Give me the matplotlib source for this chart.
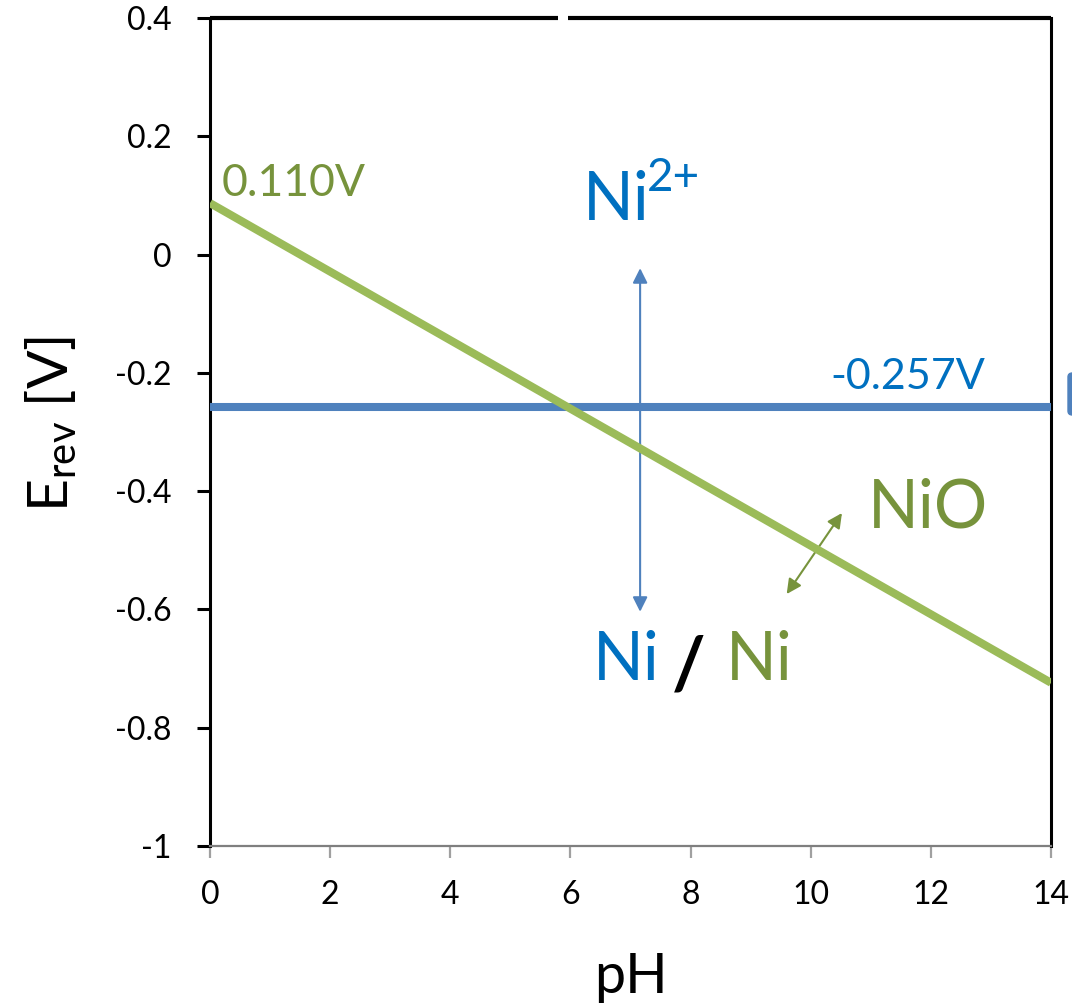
import matplotlib
matplotlib.use("Agg")
import matplotlib.pyplot as plt
from matplotlib.patches import FancyBboxPatch
from matplotlib.lines import Line2D

plt.rcParams['font.family'] = ['Lato', 'DejaVu Sans']
plt.rcParams['mathtext.default'] = 'regular'

# Data
ph_green = [0, 14]
e_green = [0.087, -0.724]          # Ni/NiO line
ph_blue = [0, 14]
e_blue = [-0.257, -0.257]          # Ni/Ni2+ line
x_ticks = [0, 2, 4, 6, 8, 10, 12, 14]
y_ticks = [-1, -0.8, -0.6, -0.4, -0.2, 0, 0.2, 0.4]
y_tick_labels = ["-1", "-0.8", "-0.6", "-0.4", "-0.2", "0", "0.2", "0.4"]

GREEN_LINE = "#9BBB59"
GREEN_TXT = "#77933C"
BLUE_LINE = "#4F81BD"
BLUE_TXT = "#0070C0"

fig = plt.figure(figsize=(10.72, 10.08), dpi=100)
ax = fig.add_axes([210/1072, 1 - 846/1008, (1051-210)/1072, (846-18)/1008])
ax.set_xlim(0, 14)
ax.set_ylim(-1, 0.4)

ax.plot(ph_blue, e_blue, color=BLUE_LINE, lw=5.8, solid_capstyle='butt', zorder=3)
ax.plot(ph_green, e_green, color=GREEN_LINE, lw=5.8, solid_capstyle='butt', zorder=4)

# spines
ax.spines['left'].set_color('black')
ax.spines['left'].set_linewidth(2.2)
ax.spines['right'].set_color('black')
ax.spines['right'].set_linewidth(2.2)
ax.spines['bottom'].set_color('#7f7f7f')
ax.spines['bottom'].set_linewidth(1.6)
ax.spines['top'].set_visible(False)
# top border with small gap
gap_l = (558-210)/(1051-210)
gap_r = (568-210)/(1051-210)
for x0, x1 in [(0, gap_l), (gap_r, 1)]:
    ax.add_line(Line2D([x0, x1], [1, 1], transform=ax.transAxes, color='black',
                       lw=3.0, clip_on=False, solid_capstyle='butt'))

ax.set_xticks(x_ticks)
ax.set_xticklabels([str(v) for v in x_ticks])
ax.set_yticks(y_ticks)
ax.set_yticklabels(y_tick_labels)
ax.tick_params(axis='y', direction='out', length=9.5, width=2.2, color='black',
               labelsize=23, pad=18)
ax.tick_params(axis='x', direction='out', length=8.5, width=1.6, color='#a0a0a0',
               labelsize=23, pad=16)

ax.set_xlabel("pH", fontsize=40, labelpad=30)
ax.set_ylabel("E$_{rev}$ [V]", fontsize=41)
ax.yaxis.set_label_coords(-0.156, 0.51)

# value labels
ax.text(0.2, 0.121, "0.110V", color=GREEN_TXT, fontsize=32, ha='left', va='center')
ax.text(10.32, -0.207, "-0.257V", color=BLUE_TXT, fontsize=31, ha='left', va='center')

# species labels
ax.text(6.21, 0.058, "Ni", color=BLUE_TXT, fontsize=48, ha='left', va='baseline')
ax.text(7.27, 0.108, "2+", color=BLUE_TXT, fontsize=33, ha='left', va='baseline')
ax.text(10.95, -0.462, "NiO", color=GREEN_TXT, fontsize=48, ha='left', va='baseline')
ax.text(6.38, -0.719, "Ni", color=BLUE_TXT, fontsize=48, ha='left', va='baseline')
ax.text(7.97, -0.733, "/", color='black', fontsize=52, ha='center', va='baseline',
        fontweight='bold')
ax.text(8.58, -0.719, "Ni", color=GREEN_TXT, fontsize=48, ha='left', va='baseline')

# arrows
ax.annotate("", xy=(7.16, -0.023), xytext=(7.16, -0.604),
            arrowprops=dict(arrowstyle='<|-|>', color=BLUE_LINE, lw=1.5,
                            mutation_scale=22, shrinkA=0, shrinkB=0))
ax.annotate("", xy=(10.52, -0.437), xytext=(9.6, -0.574),
            arrowprops=dict(arrowstyle='<|-|>', color=GREEN_TXT, lw=1.5,
                            mutation_scale=22, shrinkA=0, shrinkB=0))

# clipped legend marker at right edge
fig.patches.append(FancyBboxPatch((1068/1072, 1 - 415/1008), 20/1072, 42/1008,
                                  boxstyle="round,pad=0,rounding_size=0.004",
                                  transform=fig.transFigure, color=BLUE_LINE,
                                  clip_on=False))

fig.savefig("out.png", dpi=100)
